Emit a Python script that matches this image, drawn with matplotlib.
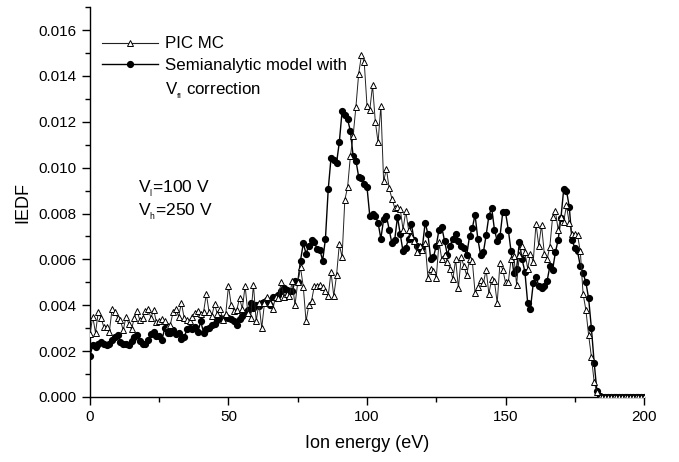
import matplotlib
matplotlib.use("Agg")
import matplotlib.pyplot as plt
from matplotlib.lines import Line2D

plt.rcParams['font.family'] = ['Liberation Sans', 'DejaVu Sans']
plt.rcParams['mathtext.default'] = 'regular'

# ion energy grid (eV), 1 eV step
energy = list(range(0, 201))

# PIC MC IEDF, units of 1e-3
pic_mc = [
    2.75, 3.5, 2.8, 3.7, 3.45, 3.05, 3.05, 2.85, 3.85, 3.7,
    3.45, 3.35, 2.9, 3.5, 3.2, 2.95, 3.45, 3.75, 3.35, 3.45,
    3.75, 3.85, 3.45, 3.8, 3.25, 3.3, 3.4, 3.3, 3.1, 3.15,
    3.7, 3.85, 3.5, 4.1, 3.45, 3.35, 3.3, 3.5, 3.65, 3.75,
    3.6, 3.7, 4.5, 3.7, 3.55, 4.05, 3.6, 3.85, 3.35, 3.6,
    4.85, 4.0, 3.75, 3.8, 4.3, 3.85, 4.85, 3.65, 3.45, 4.9,
    3.3, 4.1, 3.0, 4.1, 4.35, 4.1, 3.85, 4.35, 4.3, 5.0,
    4.35, 4.5, 4.4, 5.05, 4.0, 5.0, 5.65, 4.8, 3.3, 4.0,
    4.2, 4.85, 4.85, 4.9, 4.8, 4.6, 4.4, 5.45, 4.4, 5.3,
    6.65, 6.1, 8.6, 9.15, 10.5, 11.4, 12.65, 14.1, 14.9, 14.6,
    12.7, 12.5, 13.6, 12.0, 11.1, 12.7, 9.4, 9.95, 9.1, 8.65,
    8.25, 8.3, 8.2, 7.3, 8.1, 7.3, 7.0, 6.8, 6.3, 6.6,
    6.4, 6.7, 5.2, 5.6, 5.5, 5.2, 6.75, 6.0, 6.2, 5.9,
    5.6, 5.15, 6.0, 4.75, 6.1, 5.7, 5.3, 6.0, 5.95, 4.55,
    4.8, 5.1, 4.95, 5.55, 4.5, 5.15, 5.05, 4.1, 5.85, 5.55,
    5.0, 5.0, 6.0, 6.15, 4.9, 6.2, 6.6, 6.3, 5.6, 6.25,
    5.9, 7.55, 6.6, 7.5, 6.25, 6.0, 6.55, 7.85, 8.1, 7.3,
    7.85, 7.65, 8.35, 7.6, 7.1, 7.1, 7.05, 6.35, 4.5, 3.8,
    2.7, 1.75, 0.65, 0.2, 0, 0, 0, 0, 0, 0,
    0, 0, 0, 0, 0, 0, 0, 0, 0, 0,
    0,
]

# semianalytic model with V_fl correction, units of 1e-3
semianalytic = [
    1.8, 2.25, 2.2, 2.3, 2.4, 2.3, 2.25, 2.3, 2.5, 2.6,
    2.7, 2.4, 2.3, 2.3, 2.25, 2.45, 2.6, 2.7, 2.45, 2.3,
    2.3, 2.5, 2.75, 2.85, 2.65, 2.65, 2.5, 3.0, 2.8, 2.8,
    2.9, 2.75, 2.8, 2.55, 2.6, 2.95, 3.0, 2.95, 3.05, 2.85,
    3.3, 2.8, 2.95, 3.0, 3.15, 3.2, 3.35, 3.45, 3.4, 3.5,
    3.45, 3.4, 3.3, 3.15, 3.4, 3.55, 3.65, 3.8, 4.1, 3.9,
    4.0, 3.95, 4.1, 4.15, 4.25, 4.0, 4.35, 4.3, 4.45, 4.6,
    4.75, 4.65, 4.6, 4.6, 5.05, 5.0, 5.95, 6.7, 6.25, 6.6,
    6.85, 6.75, 6.45, 6.4, 5.95, 6.9, 9.05, 10.4, 10.35, 10.2,
    11.1, 12.45, 12.3, 12.1, 11.6, 10.5, 10.3, 9.6, 9.55, 9.3,
    9.15, 7.9, 8.0, 7.9, 7.6, 6.9, 7.75, 7.9, 7.3, 6.7,
    6.85, 7.85, 7.1, 6.35, 6.5, 6.9, 7.55, 6.85, 6.6, 6.4,
    6.55, 7.6, 7.1, 6.0, 6.1, 6.6, 7.3, 7.4, 6.8, 6.2,
    6.6, 6.9, 7.1, 6.8, 6.6, 6.5, 6.2, 7.0, 7.35, 7.95,
    6.9, 6.2, 6.3, 7.05, 7.9, 8.25, 7.3, 6.8, 7.0, 8.05,
    8.05, 7.3, 6.35, 5.4, 5.6, 6.75, 6.0, 5.45, 4.1, 3.85,
    4.95, 5.25, 4.85, 4.75, 4.85, 5.05, 5.7, 5.55, 6.3, 6.85,
    7.8, 9.05, 9.0, 8.3, 6.85, 6.5, 6.35, 5.7, 5.4, 5.0,
    4.3, 3.0, 1.5, 0.25, 0.05, 0, 0, 0, 0, 0,
    0, 0, 0, 0, 0, 0, 0, 0, 0, 0,
    0,
]

pic_mc = [v * 1e-3 for v in pic_mc]
semianalytic = [v * 1e-3 for v in semianalytic]

fig = plt.figure(figsize=(6.79, 4.62), dpi=100)
ax = fig.add_axes([0.1325, 0.1407, 0.816, 0.844])

ax.plot(energy, semianalytic, color='black', lw=1.0, marker='o', ms=4.2,
        mfc='black', mec='black', zorder=3)
ax.plot(energy, pic_mc, color='#222222', lw=0.7, marker='^', ms=5,
        mfc='white', mec='black', mew=0.7, zorder=4)

ax.set_xlim(0, 200)
ax.set_ylim(0, 0.017)
ax.set_xticks([0, 50, 100, 150, 200])
ax.set_xticks([25, 75, 125, 175], minor=True)
ax.set_yticks([0.000, 0.002, 0.004, 0.006, 0.008, 0.010, 0.012, 0.014, 0.016])
ax.set_yticks([0.001, 0.003, 0.005, 0.007, 0.009, 0.011, 0.013, 0.015, 0.017], minor=True)
ax.set_yticklabels(['%.3f' % t for t in ax.get_yticks()])

for side in ['top', 'right']:
    ax.spines[side].set_visible(False)
for side in ['left', 'bottom']:
    ax.spines[side].set_linewidth(1.0)

ax.tick_params(which='major', direction='out', length=6, width=1, labelsize=11)
ax.tick_params(which='minor', direction='out', length=3.5, width=1)

ax.set_xlabel('Ion energy (eV)', fontsize=13, labelpad=8)
ax.set_ylabel('IEDF', fontsize=13, labelpad=5)

# legend: handle sits next to the first line of the second label, like the original
handles = [
    Line2D([], [], color='#222222', lw=0.8, marker='^', ms=5, mfc='white', mec='black', mew=0.7),
    Line2D([], [], color='black', lw=1.0, marker='o', ms=4.2, mfc='black', mec='black'),
    Line2D([], [], color='none'),
]
labels = ['PIC MC', 'Semianalytic model with', 'V$_{_{fl}}$ correction']
ax.legend(handles, labels, loc='upper left', bbox_to_anchor=(0.0, 0.955), frameon=False,
          fontsize=12.2, handlelength=3.3, handletextpad=0.4, labelspacing=0.4,
          borderaxespad=0.3)

ax.text(48 / 2.77, 0.0089, 'V$_{_l}$=100 V', fontsize=12.5)
ax.text(48 / 2.77, 0.0079, 'V$_{_h}$=250 V', fontsize=12.5)

fig.savefig('out.png', dpi=100)
